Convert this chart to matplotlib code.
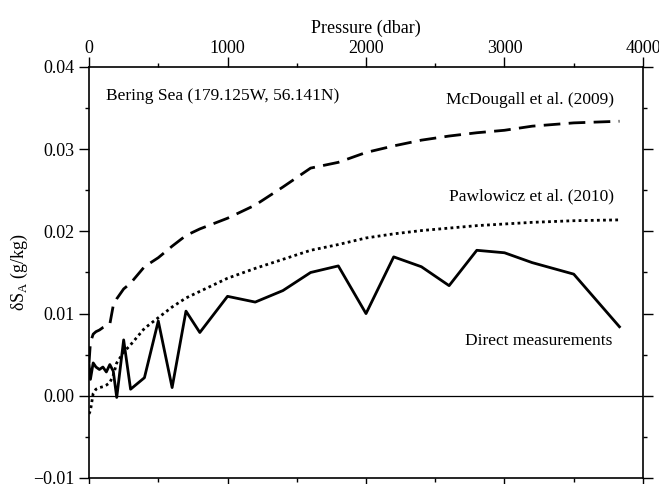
import numpy as np
import matplotlib
matplotlib.use("Agg")
import matplotlib.pyplot as plt
from matplotlib.ticker import MultipleLocator, FuncFormatter

plt.rcParams['font.family'] = ['Liberation Serif', 'DejaVu Serif']

pressure = [0, 10, 30, 50, 75, 100, 125, 150, 175, 200, 250, 300, 400, 500, 600,
            700, 800, 1000, 1200, 1400, 1600, 1800, 2000, 2200, 2400, 2600, 2800,
            3000, 3200, 3500, 3830]

mcdougall = [0.0040, 0.0065, 0.0075, 0.0078, 0.0080, 0.0083, 0.0085, 0.0087, 0.0110,
             0.0118, 0.0130, 0.0137, 0.0157, 0.0168, 0.0182, 0.0195, 0.0203, 0.0216,
             0.0232, 0.0254, 0.0277, 0.0284, 0.0296, 0.0304, 0.0311, 0.0316, 0.0320,
             0.0323, 0.0328, 0.0332, 0.0334]

pawlowicz = [-0.0022, -0.0018, 0.0003, 0.0008, 0.0010, 0.0011, 0.0013, 0.0016, 0.0025,
             0.0040, 0.0053, 0.0062, 0.0082, 0.0095, 0.0108, 0.0119, 0.0127, 0.0143,
             0.0155, 0.0166, 0.0177, 0.0184, 0.0192, 0.0197, 0.0201, 0.0204, 0.0207,
             0.0209, 0.0211, 0.0213, 0.0214]

direct = [0.0038, 0.0020, 0.0040, 0.0035, 0.0032, 0.0035, 0.0029, 0.0038, 0.0030,
          -0.0002, 0.0068, 0.0008, 0.0022, 0.0091, 0.0010, 0.0103, 0.0077, 0.0121,
          0.0114, 0.0128, 0.0150, 0.0158, 0.0100, 0.0169, 0.0157, 0.0134, 0.0177,
          0.0174, 0.0162, 0.0148, 0.0084]

fig = plt.figure(figsize=(6.59, 4.84), dpi=100)
ax = fig.add_axes([0.1351, 0.0124, 0.8406, 0.8492])

ax.axhline(0, color='black', lw=0.9)
ax.plot(pressure, mcdougall, color='black', lw=2.0, dashes=(6, 3))
ax.plot(pressure, pawlowicz, color='black', lw=2.0, dashes=(1, 1.2))
ax.plot(pressure, direct, color='black', lw=2.0)

ax.set_xlim(0, 4000)
ax.set_ylim(-0.01, 0.04)

ax.xaxis.set_major_locator(MultipleLocator(1000))
ax.xaxis.set_minor_locator(MultipleLocator(500))
ax.yaxis.set_major_locator(MultipleLocator(0.01))
ax.yaxis.set_minor_locator(MultipleLocator(0.005))
ax.yaxis.set_major_formatter(FuncFormatter(lambda v, p: ('%.2f' % v).replace('-', '\u2212')))

ax.tick_params(which='both', direction='out', top=True, right=True, bottom=True,
               labeltop=True, labelbottom=False, labelsize=13, width=1.0)
ax.tick_params(which='major', length=7)
ax.tick_params(which='minor', length=3)
ax.tick_params(axis='x', which='major', pad=0.5)
ax.xaxis.set_label_position('top')
ax.set_xlabel('Pressure (dbar)', fontsize=13, labelpad=5)
ax.set_ylabel(r'δS$_\mathregular{A}$ (g/kg)', fontsize=13, labelpad=2)
for s in ax.spines.values():
    s.set_linewidth(1.2)

ax.text(125, 0.0365, 'Bering Sea (179.125W, 56.141N)', fontsize=12.5, va='center')
ax.text(3790, 0.0360, 'McDougall et al. (2009)', fontsize=12.5, va='center', ha='right')
ax.text(3790, 0.0243, 'Pawlowicz et al. (2010)', fontsize=12.5, va='center', ha='right')
ax.text(3780, 0.0067, 'Direct measurements', fontsize=12.5, va='center', ha='right')

fig.savefig('out.png', dpi=100)
